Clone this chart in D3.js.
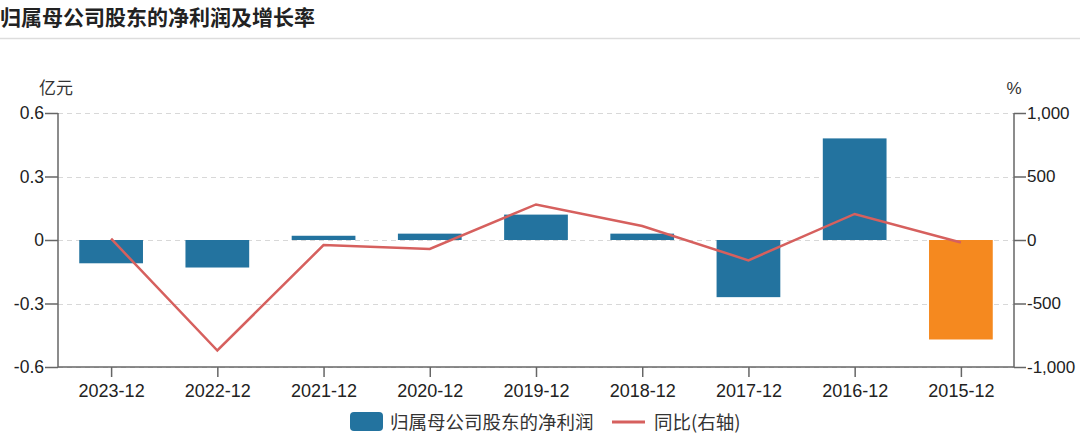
<!DOCTYPE html>
<html><head><meta charset="utf-8">
<script src="https://cdn.jsdelivr.net/npm/d3@7/dist/d3.min.js"></script>
<style>
body{margin:0;background:#fff;}
text{font-family:"Noto Sans CJK SC","Noto Sans",sans-serif;}
</style></head>
<body><svg id="c" width="1080" height="448"></svg>
<script>
const categories = ["2023-12","2022-12","2021-12","2020-12","2019-12","2018-12","2017-12","2016-12","2015-12"];
const profit = [-0.11,-0.13,0.02,0.03,0.12,0.03,-0.27,0.48,-0.47];
const growth = [10,-870,-40,-70,280,110,-160,205,-20];
const leftTicks = [-0.6,-0.3,0,0.3,0.6];
const rightTicks = [-1000,-500,0,500,1000];
const title = "归属母公司股东的净利润及增长率";
const barName = "归属母公司股东的净利润";
const lineName = "同比(右轴)";

const svg = d3.select("#c");
const L=58,R=1014,T=113,B=367;
const x = d3.scaleBand().domain(categories).range([L,R]).paddingInner(0.4).paddingOuter(0.2);
const xc = d3.scalePoint().domain(categories).range([L,R]).padding(0.5);
const y = d3.scaleLinear().domain([-0.6,0.6]).range([B,T]);
const y2 = d3.scaleLinear().domain([-1000,1000]).range([B,T]);
const hy = s => s.replace("\u2212","-");

svg.append("text").attr("x",0).attr("y",25).attr("font-size",21).attr("font-weight","bold").attr("fill","#222").text(title);
svg.append("line").attr("x1",0).attr("x2",1080).attr("y1",38.5).attr("y2",38.5).attr("stroke","#ddd").attr("stroke-width",1.5);

// grid
svg.append("g").selectAll("line").data(leftTicks).join("line")
  .attr("x1",L).attr("x2",R).attr("y1",d=>Math.round(y(d))+0.5).attr("y2",d=>Math.round(y(d))+0.5)
  .attr("stroke","#d8d8d8").attr("stroke-dasharray","5,4");

// bars
svg.append("g").selectAll("rect").data(profit).join("rect")
  .attr("x",(d,i)=>x(categories[i])).attr("width",x.bandwidth())
  .attr("y",d=>y(Math.max(0,d))).attr("height",d=>Math.abs(y(d)-y(0)))
  .attr("fill",(d,i)=>i===categories.length-1?"#f5891f":"#23739f");

// line
svg.append("path").datum(growth)
  .attr("d",d3.line().x((d,i)=>xc(categories[i])).y(d=>y2(d)))
  .attr("fill","none").attr("stroke","#d6605e").attr("stroke-width",2.5);

// axes
const numFont = "\"Liberation Sans\",Arial,sans-serif";
const ax = svg.append("g").attr("transform",`translate(0,${B})`).call(d3.axisBottom(xc).tickSize(10).tickPadding(7));
const ay = svg.append("g").attr("transform",`translate(${L},0)`).call(d3.axisLeft(y).tickValues(leftTicks).tickFormat(d=>d===0?"0":hy(d3.format(".1f")(d))).tickSize(13).tickPadding(1));
const ay2 = svg.append("g").attr("transform",`translate(${R},0)`).call(d3.axisRight(y2).tickValues(rightTicks).tickFormat(d=>hy(d3.format(",")(d))).tickSize(12).tickPadding(1));
[ax,ay,ay2].forEach(g=>{
  g.select(".domain").attr("stroke","#666").attr("stroke-width",1.5);
  g.selectAll(".tick line").attr("stroke","#666").attr("stroke-width",1.5);
  g.selectAll("text").style("font-size","17.5px").attr("fill","#222").style("font-family",numFont);
});
ax.selectAll("text").style("font-size","18px");
ay2.selectAll("text").style("font-size","17px");
ax.select(".domain").attr("d",`M${L},0H${R}`);
ay.select(".domain").attr("d",`M0,${T}V${B}`);
ay2.select(".domain").attr("d",`M0,${T}V${B}`);

svg.append("text").attr("x",56).attr("y",94).attr("text-anchor","middle").attr("font-size",17).attr("fill","#333").text("亿元");
svg.append("text").attr("x",1014).attr("y",94).attr("text-anchor","middle").attr("font-size",17).attr("fill","#333").style("font-family",numFont).text("%");

// legend
const lg = svg.append("g");
lg.append("rect").attr("x",350).attr("y",412).attr("width",33).attr("height",19).attr("rx",4).attr("fill","#23739f");
lg.append("text").attr("x",390).attr("y",429).attr("font-size",18.5).attr("fill","#333").text(barName);
lg.append("line").attr("x1",612).attr("x2",645).attr("y1",422).attr("y2",422).attr("stroke","#d6605e").attr("stroke-width",3);
lg.append("text").attr("x",654).attr("y",429).attr("font-size",18.5).attr("fill","#333").text(lineName);
</script></body></html>
